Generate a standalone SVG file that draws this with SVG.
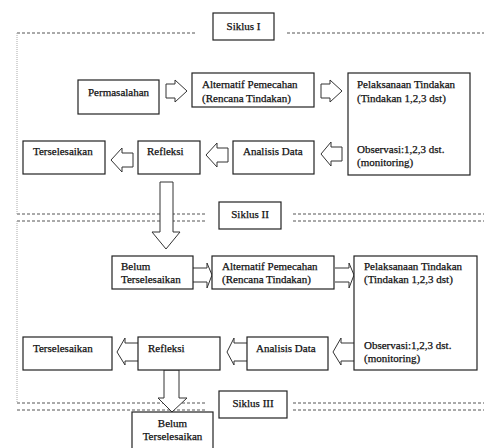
<svg xmlns="http://www.w3.org/2000/svg" width="484" height="448" viewBox="0 0 484 448">
<style>
.b{fill:#fff;stroke:#222;stroke-width:1.2}
.a{fill:#fff;stroke:#333;stroke-width:1}
.t{font-family:"Liberation Serif","Times New Roman",serif;font-size:11px;fill:#111;stroke:#111;stroke-width:0.25}
.m{text-anchor:middle}
.d{stroke:#555;stroke-width:1;stroke-dasharray:3 2;fill:none}
.v{stroke:#aaa;stroke-width:1;stroke-dasharray:1 1;fill:none}
</style>
<rect width="484" height="448" fill="#fff"/>
<g id="frame">
<path class="d" d="M17,33H197M287,33H484"/>
<path class="d" d="M17,214H207M293,214H484M17,221H207M293,221H484"/>
<path class="d" d="M17,403H205M293,403H484M17,410H205M293,410H484"/>
<path class="v" d="M17,33V214M17,221V403"/>
</g>
<g id="connectors">
<path class="a" d="M166,84H175V80L187,91L175,102V98H166Z"/>
<path class="a" d="M321,84H330V80L342,91L330,102V98H321Z"/>
<path class="a" d="M133,153H122V148L111,160L122,172V167H133Z"/>
<path class="a" d="M228,148H217V143L206,155L217,167V162H228Z"/>
<path class="a" d="M342,147H331V142L321,154L331,166V161H342Z"/>
<path class="a" d="M160,182H173V232H180L166,249L152,232H160Z"/>
<path class="a" d="M193,268H207V263L212,275L207,288V282H193"/>
<path class="a" d="M335,268H349V263L354,275L349,288V282H335"/>
<path class="a" d="M138,343H125V338L117,352L125,365V361H138"/>
<path class="a" d="M247,343H234V338L227,352L234,365V361H247"/>
<path class="a" d="M354,343H341V338L333,352L341,365V361H354"/>
<path class="a" d="M164,370H179V398H187L172,412L158,398H164Z"/>
</g>
<g id="siklus1"><rect class="b" x="213" y="13" width="61" height="27"/><text class="t m" x="243.5" y="30">Siklus I</text></g>
<g id="permasalahan"><rect class="b" x="78" y="80" width="81" height="34"/><text class="t" x="88" y="96">Permasalahan</text></g>
<g id="alternatif1"><rect class="b" x="192" y="73" width="122" height="34"/><text class="t" x="202" y="88">Alternatif Pemecahan</text><text class="t" x="202" y="102">(Rencana Tindakan)</text></g>
<g id="pelaksanaan1"><rect class="b" x="348" y="73" width="122" height="102"/><text class="t" x="357" y="88">Pelaksanaan Tindakan</text><text class="t" x="357" y="102">(Tindakan 1,2,3 dst)</text><text class="t" x="357" y="153">Observasi:1,2,3 dst.</text><text class="t" x="357" y="166">(monitoring)</text></g>
<g id="terselesaikan1"><rect class="b" x="23" y="141" width="82" height="33"/><text class="t" x="33" y="155">Terselesaikan</text></g>
<g id="refleksi1"><rect class="b" x="138" y="141" width="62" height="33"/><text class="t" x="147" y="155">Refleksi</text></g>
<g id="analisis1"><rect class="b" x="233" y="141" width="81" height="33"/><text class="t" x="243" y="155">Analisis Data</text></g>
<g id="siklus2"><rect class="b" x="219" y="202" width="62" height="27"/><text class="t m" x="250" y="218">Siklus II</text></g>
<g id="belum1"><rect class="b" x="112" y="256" width="81" height="33"/><text class="t" x="121" y="270">Belum</text><text class="t" x="121" y="283">Terselesaikan</text></g>
<g id="alternatif2"><rect class="b" x="212" y="256" width="122" height="33"/><text class="t" x="222" y="270">Alternatif Pemecahan</text><text class="t" x="222" y="283">(Rencana Tindakan)</text></g>
<g id="pelaksanaan2"><rect class="b" x="354" y="256" width="123" height="114"/><text class="t" x="364" y="270">Pelaksanaan Tindakan</text><text class="t" x="364" y="283">(Tindakan 1,2,3 dst)</text><text class="t" x="364" y="349">Observasi:1,2,3 dst.</text><text class="t" x="364" y="362">(monitoring)</text></g>
<g id="terselesaikan2"><rect class="b" x="23" y="337" width="89" height="33"/><text class="t" x="33" y="352">Terselesaikan</text></g>
<g id="refleksi2"><rect class="b" x="138" y="337" width="82" height="33"/><text class="t" x="148" y="352">Refleksi</text></g>
<g id="analisis2"><rect class="b" x="247" y="337" width="81" height="33"/><text class="t" x="256" y="352">Analisis Data</text></g>
<g id="siklus3"><rect class="b" x="219" y="391" width="68" height="27"/><text class="t m" x="253" y="407">Siklus III</text></g>
<g id="belum2"><rect class="b" x="132" y="412" width="81" height="40"/><text class="t m" x="172.5" y="427">Belum</text><text class="t m" x="172.5" y="440">Terselesaikan</text></g>
</svg>
